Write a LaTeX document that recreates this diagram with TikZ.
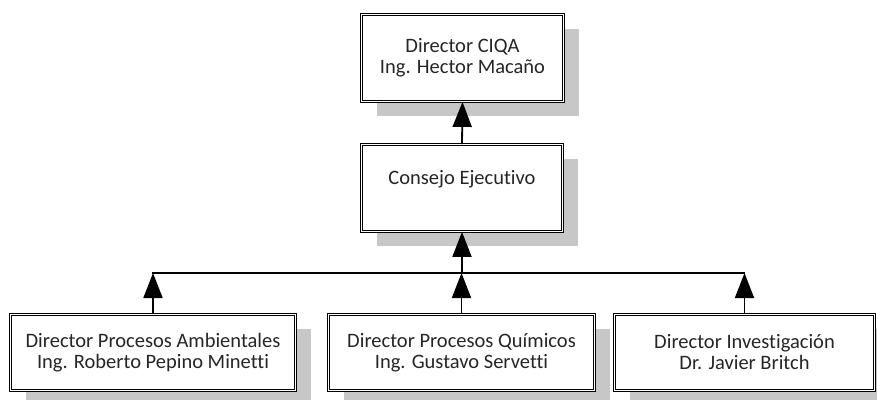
\documentclass[tikz,border=0pt]{standalone}
\usepackage{fontspec}
\setmainfont{Carlito}[Ligatures=CommonOff]
\usetikzlibrary{arrows.meta,shadows,positioning}

\tikzset{
  cargo/.style={draw=black,line width=0.8pt,double=white,double distance=1.6pt,
    fill=white,align=center,inner sep=0pt,text=black!85,
    font=\fontsize{20.5}{21}\selectfont,
    drop shadow={shadow xshift=15pt,shadow yshift=-14pt,fill=black!22,opacity=1}},
  enlace/.style={line width=1.8pt,-{Triangle[length=25pt,width=19pt]}}
}

\begin{document}
\begin{tikzpicture}[x=1pt,y=-1pt]
\clip (0,0) rectangle (877,399);
\useasboundingbox (0,0) rectangle (877,399);
% jefatura
\node[cargo,minimum width=202pt,minimum height=87pt] (ciqa) at (462.5,58)
  {Director CIQA\\Ing. Hector Maca\~no};
\node[cargo,minimum width=201pt,minimum height=87pt] (consejo) at (462,188)
  {Consejo Ejecutivo\\ \mbox{}};
% direcciones
\node[cargo,minimum width=285pt,minimum height=76pt] (ambient) at (153,352.5)
  {Director Procesos Ambientales\\Ing. Roberto Pepino Minetti};
\node[cargo,minimum width=266pt,minimum height=76pt] (quimicos) at (461.5,352.5)
  {Director Procesos Qu\'imicos\\Ing. Gustavo Servetti};
\node[cargo,minimum width=260pt,minimum height=76pt] (investig) at (744.5,352.5)
  {Director Investigaci\'on\\Dr. Javier Britch};
\coordinate (bus) at (462,273);
\draw[enlace] (consejo.north) -- (ciqa.south);
\draw[enlace] (bus) -- (consejo.south);
\draw[line width=1.8pt,line cap=rect] (ambient.north |- bus) -- (investig.north |- bus);
\foreach \caja in {ambient,quimicos,investig}
  \draw[enlace] (\caja.north) -- (\caja.north |- bus);
\end{tikzpicture}
\end{document}
